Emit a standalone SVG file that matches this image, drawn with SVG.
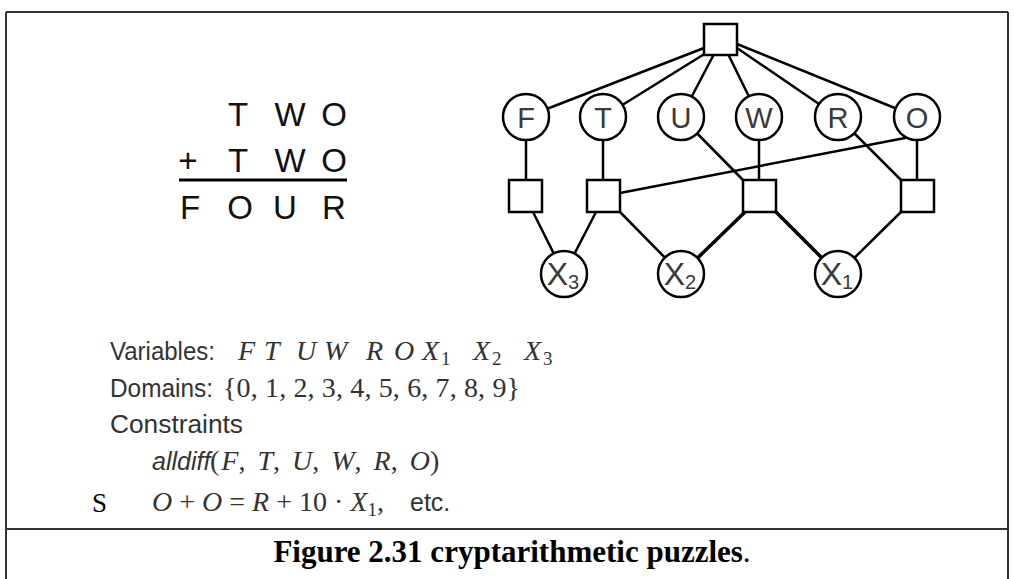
<svg xmlns="http://www.w3.org/2000/svg" width="1014" height="579" viewBox="0 0 1014 579">
<style>
.frame{stroke:#333;stroke-width:2;fill:none}
.e{stroke:#000;stroke-width:2.5;fill:none;stroke-linecap:round}
.eb{stroke:#000;stroke-width:3.5;fill:none;stroke-linecap:round}
.v{fill:#fff;stroke:#000;stroke-width:2.5}
.c{fill:#fff;stroke:#000;stroke-width:2.5}
.lbl{font-family:"Liberation Sans",Arial,sans-serif;font-size:29px;fill:#3a3a3a;text-anchor:middle}
.xl{font-family:"Liberation Sans",Arial,sans-serif;font-size:32px;fill:#3a3a3a;text-anchor:middle}
.puz{font-family:"Liberation Sans",Arial,sans-serif;font-size:33px;fill:#111;text-anchor:middle}
.sans{font-family:"Liberation Sans",Arial,sans-serif;font-size:25px;fill:#333}
.math{font-family:"Liberation Serif","Times New Roman",serif;font-size:28px;fill:#333}
.mi{font-style:italic}
.sub{font-size:19px}
.cap{font-family:"Liberation Serif","Times New Roman",serif;font-size:31px;fill:#000;text-anchor:middle}
</style>
<g id="frame">
<line class="frame" x1="6" y1="12" x2="1008" y2="12"/>
<line class="frame" x1="6" y1="12" x2="6" y2="579"/>
<line class="frame" x1="1008" y1="12" x2="1008" y2="579"/>
<line class="frame" x1="6" y1="529" x2="1008" y2="529"/>
</g>
<g id="puzzle">
<text class="puz" x="238" y="126">T</text>
<text class="puz" x="290" y="126">W</text>
<text class="puz" x="334" y="126">O</text>
<text class="puz" x="188" y="172">+</text>
<text class="puz" x="238" y="172">T</text>
<text class="puz" x="290" y="172">W</text>
<text class="puz" x="334" y="172">O</text>
<line x1="179" y1="180" x2="347" y2="180" stroke="#000" stroke-width="3"/>
<text class="puz" x="190" y="219">F</text>
<text class="puz" x="240" y="219">O</text>
<text class="puz" x="285" y="219">U</text>
<text class="puz" x="334" y="219">R</text>
</g>
<g id="connectors">
<line class="e" x1="704" y1="48" x2="526" y2="117"/>
<line class="e" x1="706" y1="53" x2="603" y2="117"/>
<line class="e" x1="713" y1="56" x2="681" y2="117"/>
<line class="e" x1="729" y1="56" x2="759" y2="117"/>
<line class="e" x1="737" y1="48" x2="838" y2="117"/>
<line class="e" x1="737" y1="44" x2="917" y2="117"/>
<line class="e" x1="526" y1="117" x2="526" y2="180"/>
<line class="e" x1="603" y1="117" x2="603" y2="180"/>
<line class="e" x1="759" y1="117" x2="759" y2="180"/>
<line class="e" x1="917" y1="117" x2="917" y2="180"/>
<line class="e" x1="681" y1="117" x2="743" y2="180"/>
<line class="e" x1="838" y1="117" x2="901" y2="180"/>
<line class="e" x1="905" y1="138" x2="620" y2="193"/>
<line class="e" x1="533" y1="212" x2="564" y2="274"/>
<line class="e" x1="596" y1="212" x2="564" y2="274"/>
<line class="e" x1="620" y1="212" x2="681" y2="274"/>
<line class="eb" x1="745" y1="212" x2="681" y2="274"/>
<line class="eb" x1="776" y1="212" x2="838" y2="274"/>
<line class="e" x1="901" y1="212" x2="838" y2="274"/>
</g>
<g id="c-top"><rect class="c" x="704" y="24" width="33" height="31"/></g>
<g id="c-f"><rect class="c" x="509" y="180" width="33" height="32"/></g>
<g id="c-t"><rect class="c" x="587" y="180" width="33" height="32"/></g>
<g id="c-w"><rect class="c" x="743" y="180" width="33" height="32"/></g>
<g id="c-o"><rect class="c" x="901" y="180" width="33" height="32"/></g>
<g id="v-F"><circle class="v" cx="526" cy="117" r="23"/><text class="lbl" x="526" y="128">F</text></g>
<g id="v-T"><circle class="v" cx="603" cy="117" r="23"/><text class="lbl" x="603" y="128">T</text></g>
<g id="v-U"><circle class="v" cx="681" cy="117" r="23"/><text class="lbl" x="681" y="128">U</text></g>
<g id="v-W"><circle class="v" cx="759" cy="117" r="23"/><text class="lbl" x="759" y="128">W</text></g>
<g id="v-R"><circle class="v" cx="838" cy="117" r="23"/><text class="lbl" x="838" y="128">R</text></g>
<g id="v-O"><circle class="v" cx="917" cy="117" r="23"/><text class="lbl" x="917" y="128">O</text></g>
<g id="v-X3"><circle class="v" cx="564" cy="274" r="23"/><text class="xl" x="563" y="285">X<tspan font-size="20" dy="4">3</tspan></text></g>
<g id="v-X2"><circle class="v" cx="681" cy="274" r="23"/><text class="xl" x="680" y="285">X<tspan font-size="20" dy="4">2</tspan></text></g>
<g id="v-X1"><circle class="v" cx="838" cy="274" r="23"/><text class="xl" x="837" y="285">X<tspan font-size="20" dy="4">1</tspan></text></g>
<g id="text-block">
<text class="sans" x="110" y="360" textLength="105" lengthAdjust="spacingAndGlyphs">Variables:</text>
<text class="math mi" y="360"><tspan x="238">F</tspan><tspan x="264">T</tspan><tspan x="296">U</tspan><tspan x="324">W</tspan><tspan x="366">R</tspan><tspan x="394">O</tspan><tspan x="422">X</tspan><tspan x="473">X</tspan><tspan x="524">X</tspan></text>
<text class="math sub" y="365"><tspan x="441">1</tspan><tspan x="492">2</tspan><tspan x="543">3</tspan></text>
<text class="sans" x="110" y="397" textLength="103" lengthAdjust="spacingAndGlyphs">Domains:</text>
<text class="math" x="223" y="397" textLength="297" lengthAdjust="spacing">{0, 1, 2, 3, 4, 5, 6, 7, 8, 9}</text>
<text class="sans" x="110" y="433" textLength="133" lengthAdjust="spacingAndGlyphs">Constraints</text>
<text class="sans" x="152" y="470" font-style="italic" font-size="21">alldiff</text>
<text class="math" x="210" y="470" word-spacing="5">(<tspan class="mi" dx="2">F</tspan>, <tspan class="mi">T</tspan>, <tspan class="mi">U</tspan>, <tspan class="mi">W</tspan>, <tspan class="mi">R</tspan>, <tspan class="mi">O</tspan>)</text>
<text x="92" y="512" font-family="Liberation Serif, Times New Roman, serif" font-size="27" fill="#000">S</text>
<text class="math" x="152" y="511"><tspan class="mi">O</tspan> + <tspan class="mi">O</tspan> = <tspan class="mi">R</tspan> + 10 · <tspan class="mi">X</tspan><tspan class="sub" dy="5">1</tspan><tspan dy="-5">,</tspan></text>
<text class="sans" x="410" y="511">etc.</text>
</g>
<g id="caption">
<text class="cap" x="512" y="562"><tspan font-weight="bold">Figure 2.31 cryptarithmetic puzzles</tspan>.</text>
</g>
</svg>
